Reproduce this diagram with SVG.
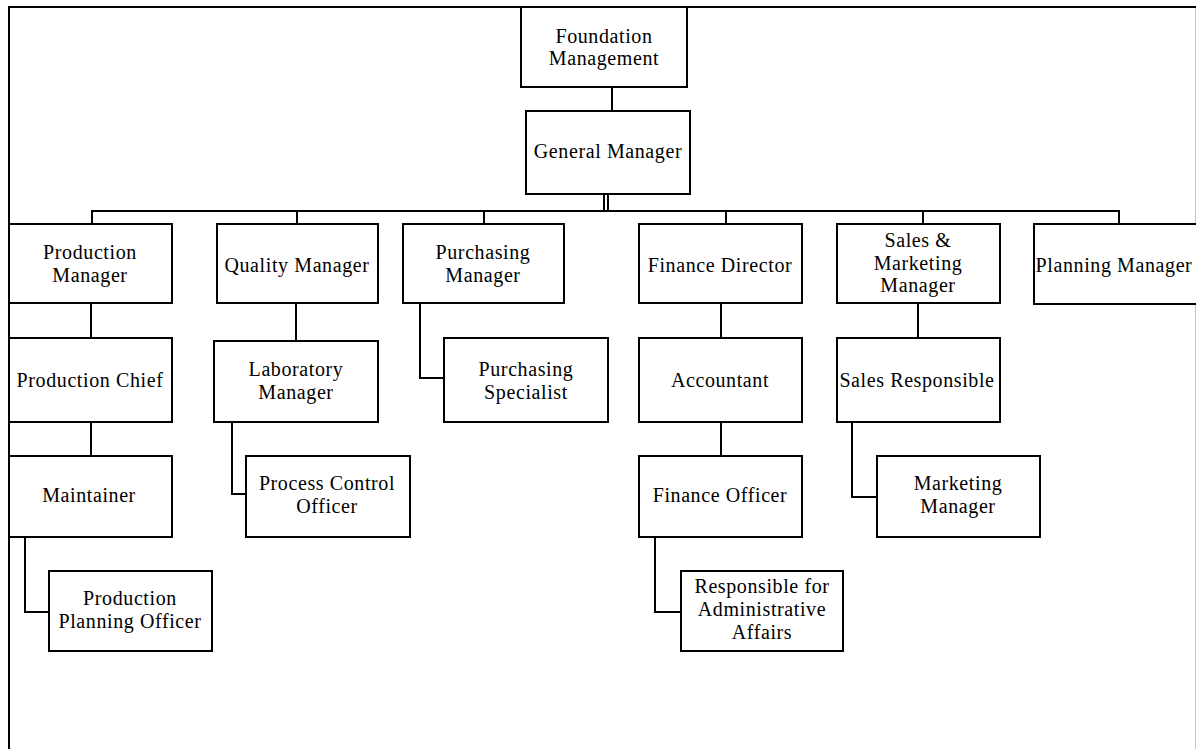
<svg xmlns="http://www.w3.org/2000/svg" width="1196" height="749" viewBox="0 0 1196 749">
<style>
.box{fill:#fff;stroke:#000;stroke-width:2}
.ln{fill:none;stroke:#000;stroke-width:2}
text{font-family:"Liberation Serif","Times New Roman",serif;font-size:20px;letter-spacing:0.6px;fill:#000;text-anchor:middle}
</style>
<rect x="0" y="0" width="1196" height="749" fill="#fff"/>
<g id="frame">
<line x1="1195.5" y1="7" x2="1195.5" y2="749" stroke="#c8c8c8" stroke-width="1"/>
<polyline class="ln" points="9,749 9,7 1196,7"/>
</g>
<g id="connectors">
<line class="ln" x1="612" y1="87" x2="612" y2="111"/>
<line class="ln" x1="604" y1="194" x2="604" y2="211"/>
<line class="ln" x1="608" y1="194" x2="608" y2="211"/>
<line class="ln" x1="91" y1="211" x2="1120" y2="211"/>
<line class="ln" x1="92" y1="211" x2="92" y2="224"/>
<line class="ln" x1="297" y1="211" x2="297" y2="224"/>
<line class="ln" x1="484" y1="211" x2="484" y2="224"/>
<line class="ln" x1="726" y1="211" x2="726" y2="224"/>
<line class="ln" x1="923" y1="211" x2="923" y2="224"/>
<line class="ln" x1="1119" y1="211" x2="1119" y2="224"/>
<line class="ln" x1="91" y1="303" x2="91" y2="338"/>
<line class="ln" x1="296" y1="303" x2="296" y2="341"/>
<polyline class="ln" points="420,303 420,378 444,378"/>
<line class="ln" x1="721" y1="303" x2="721" y2="338"/>
<line class="ln" x1="918" y1="303" x2="918" y2="338"/>
<line class="ln" x1="91" y1="422" x2="91" y2="456"/>
<polyline class="ln" points="232,422 232,494 246,494"/>
<line class="ln" x1="721" y1="422" x2="721" y2="456"/>
<polyline class="ln" points="852,422 852,497 877,497"/>
<polyline class="ln" points="25,537 25,612 49,612"/>
<polyline class="ln" points="655,537 655,612 681,612"/>
</g>
<g id="foundation"><rect class="box" x="521" y="7" width="166" height="80"/><text x="604" y="43">Foundation</text><text x="604" y="65">Management</text></g>
<g id="general"><rect class="box" x="526" y="111" width="164" height="83"/><text x="608" y="158">General Manager</text></g>
<g id="production-manager"><rect class="box" x="9" y="224" width="163" height="79"/><text x="90" y="259">Production</text><text x="90" y="282">Manager</text></g>
<g id="quality-manager"><rect class="box" x="217" y="224" width="161" height="79"/><text x="297" y="272">Quality Manager</text></g>
<g id="purchasing-manager"><rect class="box" x="403" y="224" width="161" height="79"/><text x="483" y="259">Purchasing</text><text x="483" y="282">Manager</text></g>
<g id="finance-director"><rect class="box" x="639" y="224" width="163" height="79"/><text x="720" y="272">Finance Director</text></g>
<g id="sales-marketing-manager"><rect class="box" x="837" y="224" width="163" height="79"/><text x="918" y="247">Sales &amp;</text><text x="918" y="270">Marketing</text><text x="918" y="292">Manager</text></g>
<g id="planning-manager"><rect class="box" x="1034" y="224" width="170" height="80"/><text x="1114" y="272">Planning Manager</text></g>
<g id="production-chief"><rect class="box" x="9" y="338" width="163" height="84"/><text x="90" y="387">Production Chief</text></g>
<g id="laboratory-manager"><rect class="box" x="214" y="341" width="164" height="81"/><text x="296" y="376">Laboratory</text><text x="296" y="399">Manager</text></g>
<g id="purchasing-specialist"><rect class="box" x="444" y="338" width="164" height="84"/><text x="526" y="376">Purchasing</text><text x="526" y="399">Specialist</text></g>
<g id="accountant"><rect class="box" x="639" y="338" width="163" height="84"/><text x="720" y="387">Accountant</text></g>
<g id="sales-responsible"><rect class="box" x="837" y="338" width="163" height="84"/><text x="917" y="387">Sales Responsible</text></g>
<g id="maintainer"><rect class="box" x="9" y="456" width="163" height="81"/><text x="89" y="502">Maintainer</text></g>
<g id="process-control-officer"><rect class="box" x="246" y="456" width="164" height="81"/><text x="327" y="490">Process Control</text><text x="327" y="513">Officer</text></g>
<g id="finance-officer"><rect class="box" x="639" y="456" width="163" height="81"/><text x="720" y="502">Finance Officer</text></g>
<g id="marketing-manager"><rect class="box" x="877" y="456" width="163" height="81"/><text x="958" y="490">Marketing</text><text x="958" y="513">Manager</text></g>
<g id="production-planning-officer"><rect class="box" x="49" y="571" width="163" height="80"/><text x="130" y="605">Production</text><text x="130" y="628">Planning Officer</text></g>
<g id="administrative-affairs"><rect class="box" x="681" y="571" width="162" height="80"/><text x="762" y="593">Responsible for</text><text x="762" y="616">Administrative</text><text x="762" y="639">Affairs</text></g>
</svg>
